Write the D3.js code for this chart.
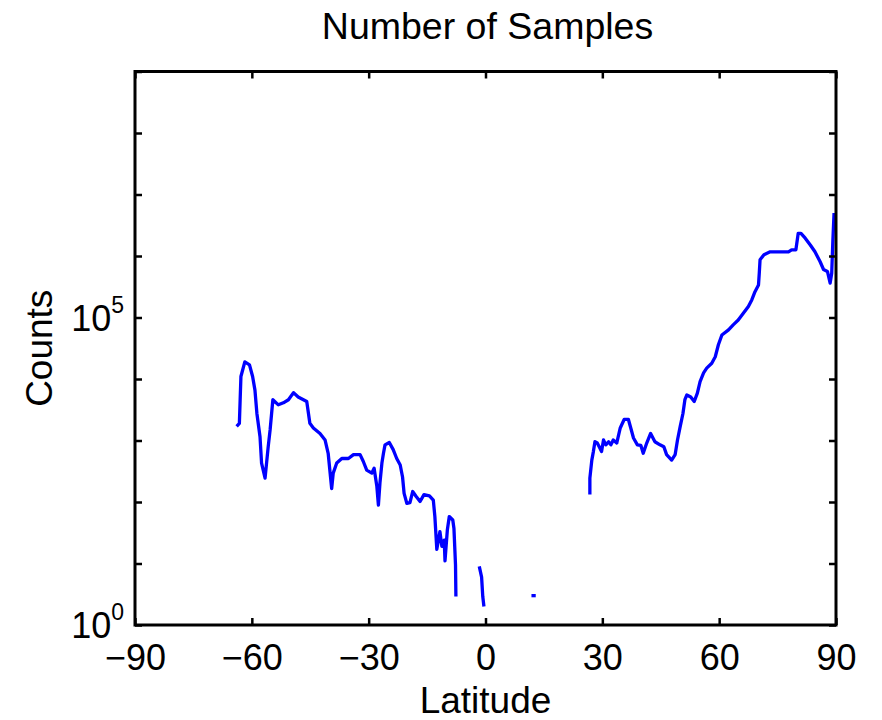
<!DOCTYPE html>
<html>
<head>
<meta charset="utf-8">
<script src="https://cdn.jsdelivr.net/npm/d3@7"></script>
<style>
  body { margin: 0; background: #fff; }
  svg { font-family: "Liberation Sans", Arial, sans-serif; }
  .axis line { stroke: #000; stroke-width: 2.5; }
  .axis path { display: none; }
</style>
</head>
<body>
<svg id="chart" width="882" height="720"></svg>
<script>
const xTicks = [-90, -60, -30, 0, 30, 60, 90];
const yDecades = [0, 1, 2, 3, 4, 5, 6, 7, 8, 9];
const yLabelExps = [0, 5];

// southern hemisphere run
const latSouth = [-63.9, -63.2, -63.0, -62.8, -61.8, -60.6, -59.8, -59.2, -58.7, -57.9, -57.5, -56.6, -55.8, -55.3, -54.6,
    -53.2, -51.9, -50.6, -49.3, -48.1, -45.9, -45.1, -44.2, -42.5, -41.2, -40.4, -39.5, -39.1, -38.2, -36.9,
    -35.2, -33.9, -32.2, -31.4, -30.5, -29.2, -28.6, -27.9, -27.5, -27.1, -26.6, -26.2, -25.8, -24.7, -23.7,
    -22.8, -21.9, -21.3, -20.9, -20.2, -19.4, -18.7, -17.8, -16.8, -15.8, -14.4, -13.4, -13.0, -12.5, -11.7,
    -11.2, -10.6, -10.4, -9.8, -9.3, -8.4, -8.1, -7.7, -7.6];
const countSouth = [1700, 1900, 4600, 11000, 19000, 17000, 11000, 6600, 2750, 1150, 430, 245, 790, 1500, 4600,
    3800, 4100, 4600, 6000, 5100, 4300, 1900, 1600, 1300, 1020, 620, 165, 295, 430, 510,
    510, 590, 590, 460, 330, 295, 355, 180, 89, 205, 430, 620, 850, 930, 710,
    510, 400, 255, 138, 95, 98, 148, 123, 102, 132, 126, 107, 58, 17, 33,
    19, 24, 11, 35, 58, 51, 37, 9.5, 2.9];

const latEquator = [-1.6, -1.0, -0.7, -0.4];
const countEquator = [9, 6, 2.9, 2];

const latTropic = [11.8, 12.9];
const countTropic = [3, 3];

// northern hemisphere run
const latNorth = [26.8, 26.8, 27.3, 27.7, 28.1, 28.7, 29.2, 29.8, 30.3, 30.9, 31.6, 32.2, 32.8, 33.7, 34.6,
    35.6, 36.7, 37.3, 38.0, 39.0, 39.9, 40.5, 41.4, 42.4, 43.5, 44.8, 45.8, 46.5, 47.8, 48.7,
    49.3, 50.0, 50.7, 51.2, 51.7, 52.7, 53.6, 54.4, 55.1, 56.0, 56.8, 58.1, 59.0, 59.8, 60.7,
    62.4, 63.6, 64.9, 66.2, 67.5, 68.4, 69.2, 70.1, 70.3, 70.5, 71.5, 73.1, 75.6, 77.8, 78.6,
    79.7, 80.3, 81.0, 82.1, 83.4, 84.6, 85.9, 86.8, 87.8, 88.5, 88.9, 89.2, 89.5];
const countNorth = [132, 245, 480, 660, 955, 910, 790, 660, 1020, 850, 955, 850, 1020, 910, 1600,
    2200, 2200, 1600, 1100, 850, 830, 620, 910, 1300, 955, 850, 790, 590, 480, 590,
    1020, 1700, 2750, 4600, 5500, 5100, 4300, 5900, 9100, 12600, 15000, 18000, 23000, 36000, 52000,
    63000, 76000, 91000, 117000, 151000, 195000, 263000, 339000, 525000, 871000, 1050000, 1170000, 1170000, 1170000, 1260000,
    1260000, 2340000, 2340000, 1950000, 1510000, 1170000, 813000, 603000, 562000, 363000, 525000, 1820000, 5010000];

const segments = [
    { lat: latSouth, count: countSouth },
    { lat: latEquator, count: countEquator },
    { lat: latTropic, count: countTropic },
    { lat: latNorth, count: countNorth }
];

const plotLeft = 135, plotRight = 836, plotTop = 71.5, plotBottom = 625;

const x = d3.scaleLinear().domain([-90, 90]).range([plotLeft, plotRight]);
const y = d3.scaleLog().domain([1, 1e9]).range([plotBottom, plotTop]);

const svg = d3.select("#chart");

svg.append("defs").append("clipPath").attr("id", "plot-clip")
    .append("rect")
    .attr("x", plotLeft).attr("y", plotTop)
    .attr("width", plotRight - plotLeft).attr("height", plotBottom - plotTop);

const line = d3.line()
    .x(d => x(d[0]))
    .y(d => y(d[1]));

svg.append("g")
    .attr("clip-path", "url(#plot-clip)")
    .selectAll("path")
    .data(segments)
    .enter().append("path")
    .attr("fill", "none")
    .attr("stroke", "#0000ff")
    .attr("stroke-width", 3.3)
    .attr("stroke-linejoin", "round")
    .attr("d", s => line(s.lat.map((v, i) => [v, s.count[i]])));

const minus = d => d < 0 ? "\u2212" + Math.abs(d) : String(d);

const xAxis = svg.append("g")
    .attr("class", "axis")
    .attr("transform", `translate(0,${plotBottom})`)
    .call(d3.axisBottom(x).tickValues(xTicks).tickSize(-7).tickFormat(minus));
xAxis.selectAll("text")
    .attr("y", 45)
    .attr("dy", null)
    .attr("fill", "#000")
    .style("font-size", "36px");

svg.append("g")
    .attr("class", "axis")
    .attr("transform", `translate(0,${plotTop})`)
    .call(d3.axisTop(x).tickValues(xTicks).tickSize(-7).tickFormat(""));

const decadeValues = yDecades.map(e => Math.pow(10, e));
svg.append("g")
    .attr("class", "axis")
    .attr("transform", `translate(${plotLeft},0)`)
    .call(d3.axisLeft(y).tickValues(decadeValues).tickSize(-7).tickFormat(""));
svg.append("g")
    .attr("class", "axis")
    .attr("transform", `translate(${plotRight},0)`)
    .call(d3.axisRight(y).tickValues(decadeValues).tickSize(-7).tickFormat(""));

// only two of the decades carry a label
const yLabels = svg.append("g")
    .selectAll("text")
    .data(yLabelExps)
    .enter().append("text")
    .attr("x", plotLeft - 11)
    .attr("y", e => y(Math.pow(10, e)) + 13)
    .attr("text-anchor", "end")
    .style("font-size", "36px");
yLabels.append("tspan").text("10");
yLabels.append("tspan")
    .attr("dy", -18)
    .style("font-size", "23px")
    .text(e => e);

svg.append("rect")
    .attr("x", plotLeft).attr("y", plotTop)
    .attr("width", plotRight - plotLeft).attr("height", plotBottom - plotTop)
    .attr("fill", "none")
    .attr("stroke", "#000")
    .attr("stroke-width", 3);

svg.append("text")
    .attr("x", (plotLeft + plotRight) / 2 + 2)
    .attr("y", 39)
    .attr("text-anchor", "middle")
    .style("font-size", "37.5px")
    .text("Number of Samples");

svg.append("text")
    .attr("x", (plotLeft + plotRight) / 2)
    .attr("y", 713)
    .attr("text-anchor", "middle")
    .style("font-size", "37px")
    .text("Latitude");

svg.append("text")
    .attr("transform", `translate(52,${(plotTop + plotBottom) / 2}) rotate(-90)`)
    .attr("text-anchor", "middle")
    .style("font-size", "37px")
    .text("Counts");
</script>
</body>
</html>
